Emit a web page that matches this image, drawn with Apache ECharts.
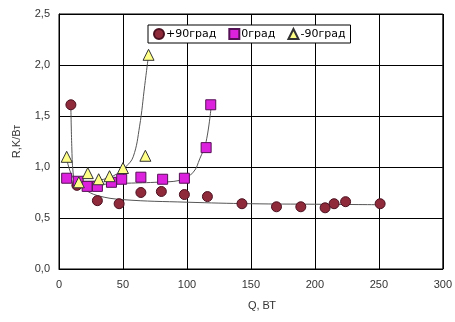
<!DOCTYPE html>
<html>
<head>
    <meta http-equiv="Content-Type" content="text/html; charset=utf-8" />
    <script src="https://cdn.jsdelivr.net/npm/echarts@6/dist/echarts.min.js"></script>
    <style>
        html, body { margin: 0; padding: 0; background: #fff; }
    </style>
</head>
<body>
<div id="chart" style="width: 455px; height: 322px;"></div>
<script type="text/javascript">
    // измерения: [Q, R]
    var plus90 = [[9.3, 1.61], [14, 0.82], [30, 0.67], [47, 0.64], [64, 0.75], [80, 0.76], [98, 0.73],
        [116, 0.71], [143, 0.64], [170, 0.61], [189, 0.61], [208, 0.60], [215, 0.64], [224, 0.66], [251, 0.64]];
    var zero = [[6, 0.89], [15, 0.86], [22, 0.81], [30, 0.81], [41, 0.85], [49, 0.88], [64, 0.90],
        [81, 0.88], [98, 0.89], [115, 1.19], [118.6, 1.61]];
    var minus90 = [[6, 1.10], [15.5, 0.85], [22.5, 0.94], [31, 0.88], [39.5, 0.91], [50, 0.99],
        [67.5, 1.11], [70, 2.10]];

    // линии тренда
    var trendPlus90 = [[9.3, 1.57], [10, 1.2], [11, 0.95], [13, 0.85], [20, 0.78], [30, 0.72], [50, 0.68],
        [100, 0.655], [150, 0.64], [200, 0.635], [252, 0.63]];
    var trendZero = [[6, 0.9], [15, 0.84], [30, 0.83], [50, 0.84], [75, 0.85], [95, 0.87], [105, 0.95],
        [110, 1.08], [115, 1.25], [119, 1.6]];
    var trendMinus90 = [[6, 1.08], [10, 0.92], [15, 0.86], [25, 0.86], [35, 0.88], [45, 0.93], [52, 1.0],
        [58, 1.1], [63, 1.4], [67, 1.8], [70, 2.1]];

    var names = ['+90град', '0град', '-90град'];

    function comma(v) { return v.toFixed(1).replace('.', ','); }

    var trendStyle = { color: '#555', width: 1 };

    var chart = echarts.init(document.getElementById('chart'));
    var option = {
        animation: false,
        textStyle: { fontFamily: 'Liberation Sans, Arial, sans-serif' },
        grid: { left: 59, right: 10, top: 14, bottom: 53, show: true, borderColor: '#000', borderWidth: 1 },
        legend: {
            data: names,
            left: 148, top: 25,
            backgroundColor: '#fff',
            borderColor: '#000', borderWidth: 1,
            padding: [3, 5],
            itemGap: 12,
            itemWidth: 10, itemHeight: 10,
            textStyle: { fontSize: 11, fontFamily: 'DejaVu Sans', color: '#000', padding: [0, 0, 0, -3] }
        },
        xAxis: {
            type: 'value', min: 0, max: 300, interval: 50,
            name: 'Q, ВТ', nameLocation: 'middle', nameGap: 31,
            nameTextStyle: { fontSize: 11, color: '#333', padding: [0, 0, 0, 22] },
            axisLine: { lineStyle: { color: '#000' } },
            axisTick: { show: false },
            axisLabel: { fontSize: 11, color: '#333', margin: 10 },
            splitLine: { lineStyle: { color: '#000', width: 1 } }
        },
        yAxis: {
            type: 'value', min: 0, max: 2.5, interval: 0.5,
            name: 'R,K/Вт', nameLocation: 'middle', nameGap: 37, nameRotate: 90,
            nameTextStyle: { fontSize: 11, color: '#333' },
            axisLine: { show: true, lineStyle: { color: '#000' } },
            axisTick: { show: false },
            axisLabel: { fontSize: 11, color: '#333', margin: 9, formatter: comma },
            splitLine: { lineStyle: { color: '#000', width: 1 } }
        },
        series: [
            { type: 'line', data: trendPlus90, smooth: 0.4, symbol: 'none', lineStyle: trendStyle, silent: true, z: 1 },
            { type: 'line', data: trendZero, smooth: 0.4, symbol: 'none', lineStyle: trendStyle, silent: true, z: 1 },
            { type: 'line', data: trendMinus90, smooth: 0.4, symbol: 'none', lineStyle: trendStyle, silent: true, z: 1 },
            {
                name: names[0], type: 'scatter', data: plus90, symbol: 'circle', symbolSize: 10, z: 3,
                itemStyle: { color: '#8e2a3a', borderColor: '#4a1020', borderWidth: 1, opacity: 1 }
            },
            {
                name: names[1], type: 'scatter', data: zero, symbol: 'rect', symbolSize: 10, z: 3,
                itemStyle: { color: '#dd22dd', borderColor: '#551155', borderWidth: 1, opacity: 1 }
            },
            {
                name: names[2], type: 'scatter', data: minus90, symbol: 'triangle', symbolSize: 11, z: 3,
                itemStyle: { color: '#ffff88', borderColor: '#333', borderWidth: 1, opacity: 1 }
            }
        ]
    };
    chart.setOption(option);
</script>
</body>
</html>
